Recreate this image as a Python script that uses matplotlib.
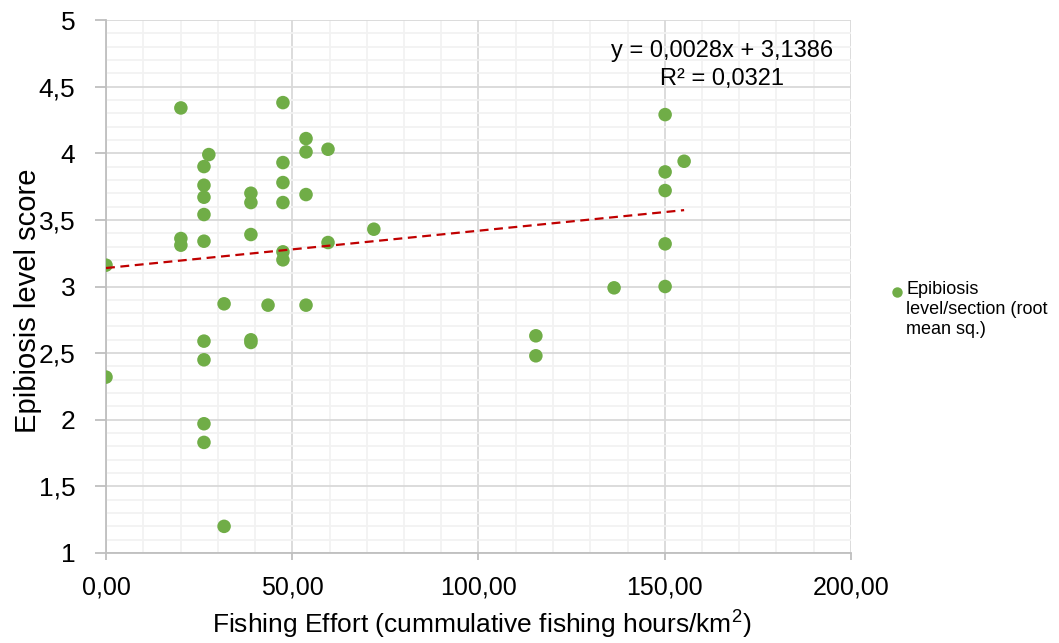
import matplotlib
matplotlib.use("Agg")
import matplotlib.pyplot as plt
from matplotlib.ticker import MultipleLocator, FuncFormatter
from matplotlib.lines import Line2D
import numpy as np

plt.rcParams['font.family'] = ['Liberation Sans', 'DejaVu Sans']
plt.rcParams['mathtext.fontset'] = 'custom'
plt.rcParams['mathtext.rm'] = 'Liberation Sans'
plt.rcParams['mathtext.it'] = 'Liberation Sans'

# Fishing effort (cumulative fishing hours per km2) and epibiosis score per section
effort = [0.0, 0.0,
          20.1, 20.1, 20.1,
          27.6, 26.3, 26.3, 26.3, 26.3, 26.3, 26.3, 26.3, 26.3, 26.3,
          31.7, 31.7,
          38.9, 38.9, 38.9, 38.9, 38.9,
          43.5,
          47.5, 47.5, 47.5, 47.5, 47.5, 47.5,
          53.7, 53.7, 53.7, 53.7,
          59.6, 59.6,
          71.9,
          115.4, 115.4,
          136.4,
          150.1, 150.1, 150.1, 150.1, 150.1,
          155.2]
score = [3.16, 2.32,
         4.34, 3.36, 3.31,
         3.99, 3.90, 3.76, 3.67, 3.54, 3.34, 2.59, 2.45, 1.97, 1.83,
         2.87, 1.20,
         3.70, 3.63, 3.39, 2.60, 2.58,
         2.86,
         4.38, 3.93, 3.78, 3.63, 3.26, 3.20,
         4.11, 4.01, 3.69, 2.86,
         4.03, 3.33,
         3.43,
         2.63, 2.48,
         2.99,
         4.29, 3.86, 3.72, 3.32, 3.00,
         3.94]

# Linear trend reported for the series
slope = 0.0028
intercept = 3.1386
r_squared = 0.0321

series_label = "Epibiosis\nlevel/section (root\nmean sq.)"
x_title = r"Fishing Effort (cummulative fishing hours/km$^{2}$)"
y_title = "Epibiosis level score"

green = "#70AD47"
trend_red = "#C00000"
major_grid = "#D9D9D9"
minor_grid = "#F2F2F2"

W, H = 1059, 643
fig = plt.figure(figsize=(W / 100, H / 100), dpi=100)
ax = fig.add_axes([106 / W, 1 - 553 / H, (851 - 106) / W, (553 - 20) / H])

ax.set_xlim(0, 200)
ax.set_ylim(1, 5)
ax.xaxis.set_major_locator(MultipleLocator(50))
ax.xaxis.set_minor_locator(MultipleLocator(10))
ax.yaxis.set_major_locator(MultipleLocator(0.5))
ax.yaxis.set_minor_locator(MultipleLocator(0.1))

ax.grid(which='minor', color=minor_grid, linewidth=1.3, zorder=0)
ax.grid(which='major', color=major_grid, linewidth=1.3, zorder=0)
ax.set_axisbelow(True)

for side in ('top', 'right'):
    ax.spines[side].set_visible(False)
for side in ('left', 'bottom'):
    ax.spines[side].set_color("#BFBFBF")
    ax.spines[side].set_linewidth(1.3)

ax.xaxis.set_major_formatter(FuncFormatter(lambda v, p: f"{v:.2f}".replace('.', ',')))
ax.yaxis.set_major_formatter(FuncFormatter(
    lambda v, p: (f"{v:.0f}" if abs(v - round(v)) < 1e-9 else f"{v:.1f}").replace('.', ',')))

ax.tick_params(axis='both', which='major', colors="#BFBFBF",
               labelcolor="#000000", width=1.3)
ax.tick_params(axis='x', which='major', length=5, pad=11, labelsize=18)
ax.tick_params(axis='y', which='major', length=8, pad=14, labelsize=19)
ax.tick_params(which='minor', length=0)

ax.scatter(effort, score, s=95, color=green, edgecolors='none', zorder=3)

xs = np.array([0.0, max(effort)])
ax.plot(xs, slope * xs + intercept, linestyle=(0, (4, 2.5)), color=trend_red,
        linewidth=1.6, zorder=4)

eq = f"y = {slope:.4f}x + {intercept:.4f}".replace('.', ',')
r2 = f"R² = {r_squared:.4f}".replace('.', ',')
fig.text(722 / W, 1 - 51 / H, eq, ha='center', va='center', fontsize=17)
fig.text(722 / W, 1 - 79 / H, r2, ha='center', va='center', fontsize=17)

ax.set_xlabel(x_title, fontsize=19)
ax.xaxis.set_label_coords(0.504, -(625 - 553) / (553 - 20), transform=ax.transAxes)
ax.xaxis.label.set_va('center')
ax.set_ylabel(y_title, fontsize=21)
ax.yaxis.set_label_coords(-(106 - 28) / (851 - 106), (553 - 301) / (553 - 20),
                          transform=ax.transAxes)
ax.yaxis.label.set_va('center')

# Series key to the right of the plot
fig.add_artist(Line2D([897 / W], [1 - 292 / H], marker='o', markersize=7.5,
                      color=green, markeredgewidth=0, linestyle='none',
                      transform=fig.transFigure))
fig.text(906 / W, 1 - 281 / H, series_label, ha='left', va='top', fontsize=13,
         linespacing=1.25)

fig.savefig("out.png", dpi=100)
